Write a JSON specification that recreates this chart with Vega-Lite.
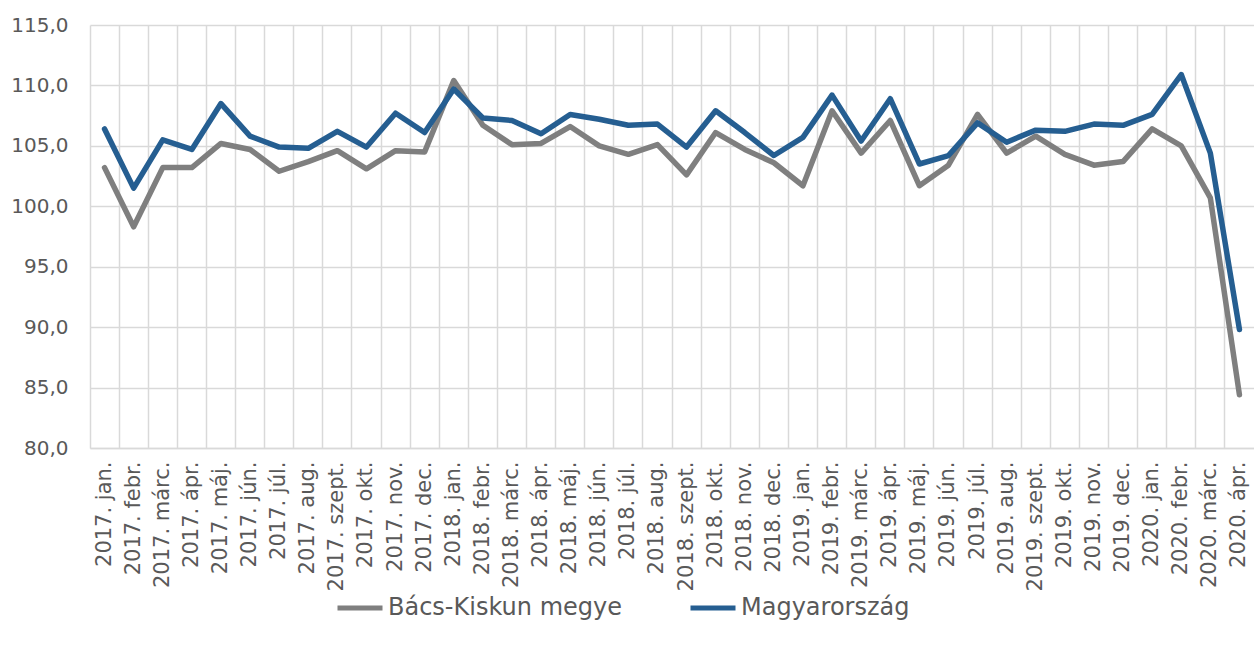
{
  "$schema": "https://vega.github.io/schema/vega-lite/v6.json",
  "width": 1164,
  "height": 423,
  "autosize": {"type": "none"},
  "padding": {"left": 90, "top": 25, "right": 0, "bottom": 203},
  "background": "#ffffff",
  "config": {
    "font": "DejaVu Sans",
    "view": {"stroke": null}
  },
  "data": {
    "values": [
      {"month": "2017. jan.", "series": "Bács-Kiskun megye", "value": 103.2},
      {"month": "2017. febr.", "series": "Bács-Kiskun megye", "value": 98.3},
      {"month": "2017. márc.", "series": "Bács-Kiskun megye", "value": 103.2},
      {"month": "2017. ápr.", "series": "Bács-Kiskun megye", "value": 103.2},
      {"month": "2017. máj.", "series": "Bács-Kiskun megye", "value": 105.2},
      {"month": "2017. jún.", "series": "Bács-Kiskun megye", "value": 104.7},
      {"month": "2017. júl.", "series": "Bács-Kiskun megye", "value": 102.9},
      {"month": "2017. aug.", "series": "Bács-Kiskun megye", "value": 103.7},
      {"month": "2017. szept.", "series": "Bács-Kiskun megye", "value": 104.6},
      {"month": "2017. okt.", "series": "Bács-Kiskun megye", "value": 103.1},
      {"month": "2017. nov.", "series": "Bács-Kiskun megye", "value": 104.6},
      {"month": "2017. dec.", "series": "Bács-Kiskun megye", "value": 104.5},
      {"month": "2018. jan.", "series": "Bács-Kiskun megye", "value": 110.4},
      {"month": "2018. febr.", "series": "Bács-Kiskun megye", "value": 106.7},
      {"month": "2018. márc.", "series": "Bács-Kiskun megye", "value": 105.1},
      {"month": "2018. ápr.", "series": "Bács-Kiskun megye", "value": 105.2},
      {"month": "2018. máj.", "series": "Bács-Kiskun megye", "value": 106.6},
      {"month": "2018. jún.", "series": "Bács-Kiskun megye", "value": 105.0},
      {"month": "2018. júl.", "series": "Bács-Kiskun megye", "value": 104.3},
      {"month": "2018. aug.", "series": "Bács-Kiskun megye", "value": 105.1},
      {"month": "2018. szept.", "series": "Bács-Kiskun megye", "value": 102.6},
      {"month": "2018. okt.", "series": "Bács-Kiskun megye", "value": 106.1},
      {"month": "2018. nov.", "series": "Bács-Kiskun megye", "value": 104.7},
      {"month": "2018. dec.", "series": "Bács-Kiskun megye", "value": 103.6},
      {"month": "2019. jan.", "series": "Bács-Kiskun megye", "value": 101.7},
      {"month": "2019. febr.", "series": "Bács-Kiskun megye", "value": 107.9},
      {"month": "2019. márc.", "series": "Bács-Kiskun megye", "value": 104.4},
      {"month": "2019. ápr.", "series": "Bács-Kiskun megye", "value": 107.1},
      {"month": "2019. máj.", "series": "Bács-Kiskun megye", "value": 101.7},
      {"month": "2019. jún.", "series": "Bács-Kiskun megye", "value": 103.4},
      {"month": "2019. júl.", "series": "Bács-Kiskun megye", "value": 107.6},
      {"month": "2019. aug.", "series": "Bács-Kiskun megye", "value": 104.4},
      {"month": "2019. szept.", "series": "Bács-Kiskun megye", "value": 105.8},
      {"month": "2019. okt.", "series": "Bács-Kiskun megye", "value": 104.3},
      {"month": "2019. nov.", "series": "Bács-Kiskun megye", "value": 103.4},
      {"month": "2019. dec.", "series": "Bács-Kiskun megye", "value": 103.7},
      {"month": "2020. jan.", "series": "Bács-Kiskun megye", "value": 106.4},
      {"month": "2020. febr.", "series": "Bács-Kiskun megye", "value": 105.0},
      {"month": "2020. márc.", "series": "Bács-Kiskun megye", "value": 100.7},
      {"month": "2020. ápr.", "series": "Bács-Kiskun megye", "value": 84.4},
      {"month": "2017. jan.", "series": "Magyarország", "value": 106.4},
      {"month": "2017. febr.", "series": "Magyarország", "value": 101.5},
      {"month": "2017. márc.", "series": "Magyarország", "value": 105.5},
      {"month": "2017. ápr.", "series": "Magyarország", "value": 104.7},
      {"month": "2017. máj.", "series": "Magyarország", "value": 108.5},
      {"month": "2017. jún.", "series": "Magyarország", "value": 105.8},
      {"month": "2017. júl.", "series": "Magyarország", "value": 104.9},
      {"month": "2017. aug.", "series": "Magyarország", "value": 104.8},
      {"month": "2017. szept.", "series": "Magyarország", "value": 106.2},
      {"month": "2017. okt.", "series": "Magyarország", "value": 104.9},
      {"month": "2017. nov.", "series": "Magyarország", "value": 107.7},
      {"month": "2017. dec.", "series": "Magyarország", "value": 106.1},
      {"month": "2018. jan.", "series": "Magyarország", "value": 109.7},
      {"month": "2018. febr.", "series": "Magyarország", "value": 107.3},
      {"month": "2018. márc.", "series": "Magyarország", "value": 107.1},
      {"month": "2018. ápr.", "series": "Magyarország", "value": 106.0},
      {"month": "2018. máj.", "series": "Magyarország", "value": 107.6},
      {"month": "2018. jún.", "series": "Magyarország", "value": 107.2},
      {"month": "2018. júl.", "series": "Magyarország", "value": 106.7},
      {"month": "2018. aug.", "series": "Magyarország", "value": 106.8},
      {"month": "2018. szept.", "series": "Magyarország", "value": 104.9},
      {"month": "2018. okt.", "series": "Magyarország", "value": 107.9},
      {"month": "2018. nov.", "series": "Magyarország", "value": 106.1},
      {"month": "2018. dec.", "series": "Magyarország", "value": 104.2},
      {"month": "2019. jan.", "series": "Magyarország", "value": 105.7},
      {"month": "2019. febr.", "series": "Magyarország", "value": 109.2},
      {"month": "2019. márc.", "series": "Magyarország", "value": 105.4},
      {"month": "2019. ápr.", "series": "Magyarország", "value": 108.9},
      {"month": "2019. máj.", "series": "Magyarország", "value": 103.5},
      {"month": "2019. jún.", "series": "Magyarország", "value": 104.2},
      {"month": "2019. júl.", "series": "Magyarország", "value": 106.9},
      {"month": "2019. aug.", "series": "Magyarország", "value": 105.3},
      {"month": "2019. szept.", "series": "Magyarország", "value": 106.3},
      {"month": "2019. okt.", "series": "Magyarország", "value": 106.2},
      {"month": "2019. nov.", "series": "Magyarország", "value": 106.8},
      {"month": "2019. dec.", "series": "Magyarország", "value": 106.7},
      {"month": "2020. jan.", "series": "Magyarország", "value": 107.6},
      {"month": "2020. febr.", "series": "Magyarország", "value": 110.9},
      {"month": "2020. márc.", "series": "Magyarország", "value": 104.4},
      {"month": "2020. ápr.", "series": "Magyarország", "value": 89.8}
    ]
  },
  "mark": {"type": "line", "strokeWidth": 5.5, "strokeCap": "round", "strokeJoin": "round"},
  "encoding": {
    "x": {
      "field": "month",
      "type": "ordinal",
      "sort": null,
      "bandPosition": 0.5,
      "scale": {"type": "band", "paddingInner": 0, "paddingOuter": 0},
      "axis": {
        "title": null,
        "bandPosition": 0,
        "grid": true,
        "gridColor": "#d9d9d9",
        "gridWidth": 1.5,
        "ticks": false,
        "domain": true,
        "domainColor": "#d9d9d9",
        "domainWidth": 1.5,
        "labelAngle": -90,
        "labelFontSize": 21,
        "labelColor": "#595959",
        "labelPadding": 13,
        "labelOverlap": false,
        "labelFont": "DejaVu Sans"
      }
    },
    "y": {
      "field": "value",
      "type": "quantitative",
      "scale": {"domain": [80, 115], "nice": false, "zero": false},
      "axis": {
        "title": null,
        "values": [80, 85, 90, 95, 100, 105, 110, 115],
        "labelExpr": "replace(format(datum.value, '.1f'), '.', ',')",
        "grid": true,
        "gridColor": "#d9d9d9",
        "gridWidth": 1.5,
        "ticks": false,
        "domain": false,
        "labelFontSize": 20,
        "labelColor": "#595959",
        "labelPadding": 22,
        "labelFont": "DejaVu Sans"
      }
    },
    "color": {
      "field": "series",
      "type": "nominal",
      "scale": {"domain": ["Bács-Kiskun megye", "Magyarország"], "range": ["#7f7f7f", "#255e91"]},
      "legend": {
        "title": null,
        "orient": "none",
        "legendX": 245,
        "legendY": 558,
        "direction": "horizontal",
        "symbolType": "stroke",
        "symbolSize": 2025,
        "symbolStrokeWidth": 5,
        "labelFontSize": 24,
        "labelLimit": 600,
        "labelColor": "#595959",
        "labelFont": "DejaVu Sans",
        "labelOffset": 3,
        "columnPadding": 58
      }
    }
  }
}
